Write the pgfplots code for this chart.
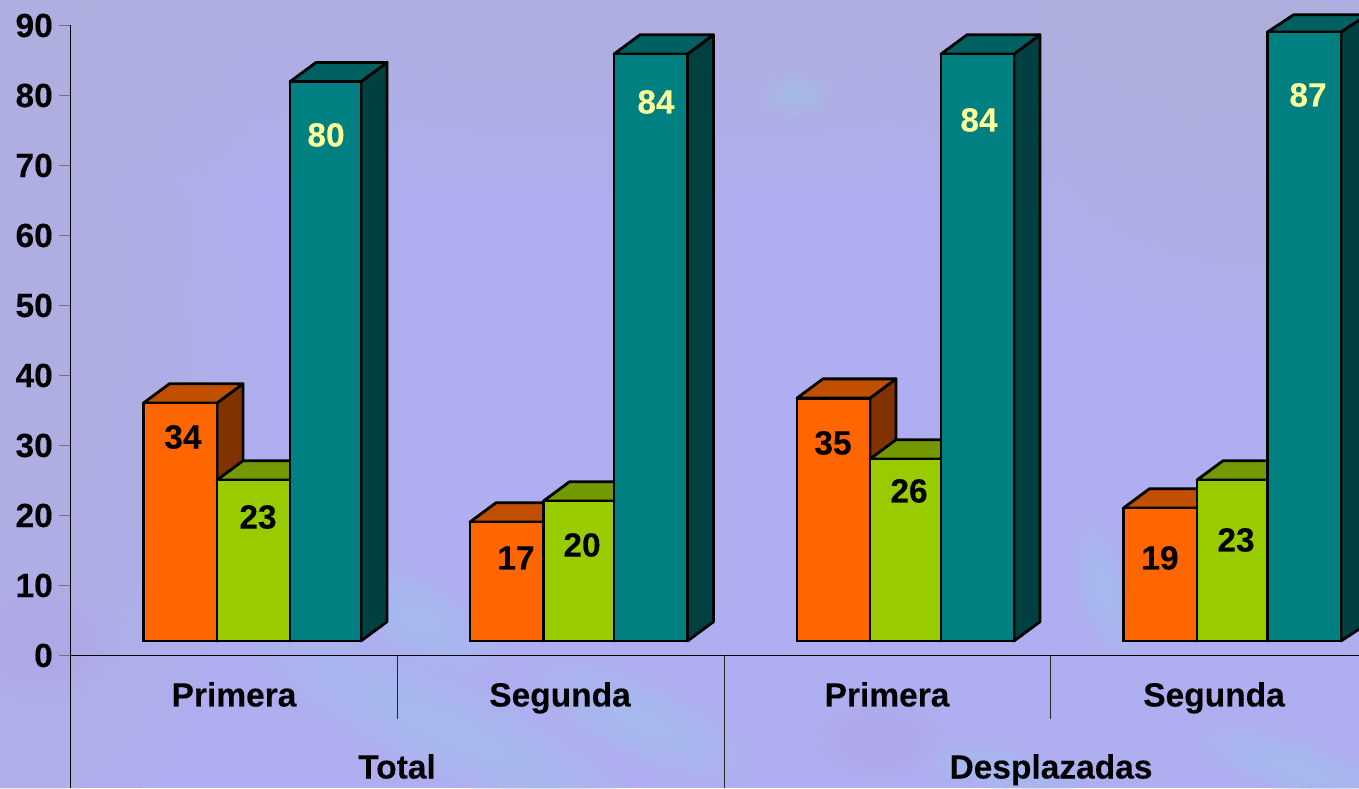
\documentclass[border=0pt]{standalone}
\usepackage{pgfplots}
\pgfplotsset{compat=1.18}
\usepackage{fontspec}
\setmainfont{Liberation Sans}[BoldFeatures={FakeBold=0.15}]
\definecolor{bgbase}{HTML}{AEAEF0}
\definecolor{bggrey}{HTML}{AEB4DC}
\definecolor{bgblue}{HTML}{A6C4EE}
\definecolor{bgpink}{HTML}{B6A8EA}
\definecolor{ofront}{HTML}{FF6600}
\definecolor{otop}{HTML}{C05000}
\definecolor{oside}{HTML}{803300}
\definecolor{gfront}{HTML}{99CC00}
\definecolor{gtop}{HTML}{739900}
\definecolor{gside}{HTML}{4D6600}
\definecolor{tfront}{HTML}{008080}
\definecolor{ttop}{HTML}{006060}
\definecolor{tside}{HTML}{004040}
\definecolor{lab}{HTML}{FFFF99}
\newcommand{\blob}[6]{% x y rx ry rotation colour
  \foreach \s in {1,0.9,0.8,0.7,0.6,0.5,0.4,0.3}{
    \fill[#6,opacity=0.11,rotate around={#5:(#1,#2)}] (#1,#2) ellipse ({#3*\s} and {#4*\s});
  }}
\def\barD{2.75}
% bar: left, right, value, front, top, side colours
\newcommand{\threedbar}[6]{%
  \pgfmathsetmacro{\barCx}{(#1+#2)/2}%
  \pgfmathsetmacro{\barW}{#2-#1}%
  \pgfmathsetmacro{\barLx}{#1+26}%
  \pgfmathsetmacro{\barRx}{#2+26}%
  \pgfmathsetmacro{\barTy}{#3+\barD}%
  \edef\tmpbar{%
    \noexpand\addplot[fill=#6,draw=black,line width=2.8pt,line join=round] coordinates {(#2,0) (\barRx,\barD) (\barRx,\barTy) (#2,#3)} --cycle;
    \noexpand\addplot[fill=#5,draw=black,line width=2.8pt,line join=round] coordinates {(#1,#3) (\barLx,\barTy) (\barRx,\barTy) (#2,#3)} --cycle;
    \noexpand\addplot[ybar,bar shift=0pt,bar width=\barW,fill=#4,draw=black,line width=2.8pt] coordinates {(\barCx,#3)};
  }\tmpbar}
\begin{document}
\begin{tikzpicture}
\useasboundingbox (-70pt,0pt) rectangle (1289pt,788pt);
\begin{scope}
\clip (-70pt,0pt) rectangle (1289pt,788pt);
\fill[bgbase] (-70pt,0pt) rectangle (1289pt,788pt);
\begin{scope}[x=1pt,y=-1pt,shift={(-70pt,788pt)}]
\blob{650}{0}{1150}{190}{0}{bggrey}
\blob{30}{300}{230}{560}{0}{bggrey}
\blob{1250}{80}{330}{260}{0}{bggrey}
\blob{450}{730}{210}{50}{-25}{bgblue}
\blob{420}{620}{90}{40}{-30}{bgblue}
\blob{640}{720}{120}{40}{-25}{bgblue}
\blob{795}{95}{35}{22}{0}{bgblue}
\blob{1300}{770}{110}{30}{-20}{bgblue}
\blob{1000}{770}{90}{22}{-10}{bgblue}
\blob{1105}{590}{28}{70}{15}{bgblue}
\blob{40}{640}{80}{60}{0}{bgpink}
\blob{880}{740}{70}{40}{0}{bgpink}
\end{scope}
\end{scope}
\begin{axis}[
  scale only axis, width=1289pt, height=788pt,
  xmin=70, xmax=1359, ymin=-21, ymax=91.571,
  axis x line=none,
  axis y line=left,
  y axis line style={draw=none,-},
  no markers,
  ytick={-2.07,7.93,17.93,27.93,37.93,47.93,57.93,67.93,77.93,87.93},
  yticklabels={0,10,20,30,40,50,60,70,80,90},
  ytick style={draw=black!55,line width=1pt},
  tick align=outside,
  major tick length=11pt,
  yticklabel style={font=\fontsize{33.5}{33.5}\selectfont\bfseries,inner sep=0pt,xshift=-6pt},
]
\addplot[black,line width=1pt] coordinates {(70.5,-21) (70.5,87.93)};
\addplot[black,line width=1pt] coordinates {(70,-2.07) (1359,-2.07)};
\addplot[black!85,line width=1pt] coordinates {(397.5,-2.07) (397.5,-11.2)};
\addplot[black!85,line width=1pt] coordinates {(724,-2.07) (724,-21)};
\addplot[black!85,line width=1pt] coordinates {(1050.5,-2.07) (1050.5,-11.2)};

\threedbar{143.5}{217}{34}{ofront}{otop}{oside}
\threedbar{217}{290}{23}{gfront}{gtop}{gside}
\threedbar{290}{361}{79.9}{tfront}{ttop}{tside}

\threedbar{470}{543.5}{17}{ofront}{otop}{oside}
\threedbar{543.5}{614}{20}{gfront}{gtop}{gside}
\threedbar{614}{687.5}{83.85}{tfront}{ttop}{tside}

\threedbar{797}{870}{34.7}{ofront}{otop}{oside}
\threedbar{870}{941}{26}{gfront}{gtop}{gside}
\threedbar{941}{1014}{83.85}{tfront}{ttop}{tside}

\threedbar{1123.5}{1197}{19}{ofront}{otop}{oside}
\threedbar{1197}{1267.5}{23}{gfront}{gtop}{gside}
\def\barD{2.45}
\threedbar{1267.5}{1341}{87}{tfront}{ttop}{tside}

\tikzset{lbl/.style={font=\fontsize{33.5}{33.5}\selectfont\bfseries,inner sep=0pt,text height=23pt,text depth=0pt,anchor=center}}
\node[lbl] at (axis cs:183,29.14) {34};
\node[lbl] at (axis cs:258,17.71) {23};
\node[lbl,text=lab] at (axis cs:326,72.29) {80};
\node[lbl] at (axis cs:516,11.86) {17};
\node[lbl] at (axis cs:582,13.71) {20};
\node[lbl,text=lab] at (axis cs:656,77) {84};
\node[lbl] at (axis cs:833,28.29) {35};
\node[lbl] at (axis cs:909,21.43) {26};
\node[lbl,text=lab] at (axis cs:979,74.43) {84};
\node[lbl] at (axis cs:1160,11.86) {19};
\node[lbl] at (axis cs:1236,14.43) {23};
\node[lbl,text=lab] at (axis cs:1308,78) {87};

\node[lbl] at (axis cs:234,-7.71) {Primera};
\node[lbl] at (axis cs:560,-7.71) {Segunda};
\node[lbl] at (axis cs:887,-7.71) {Primera};
\node[lbl] at (axis cs:1214,-7.71) {Segunda};
\node[lbl] at (axis cs:397,-18) {Total};
\node[lbl] at (axis cs:1051,-18) {Desplazadas};
\end{axis}
\end{tikzpicture}
\end{document}
